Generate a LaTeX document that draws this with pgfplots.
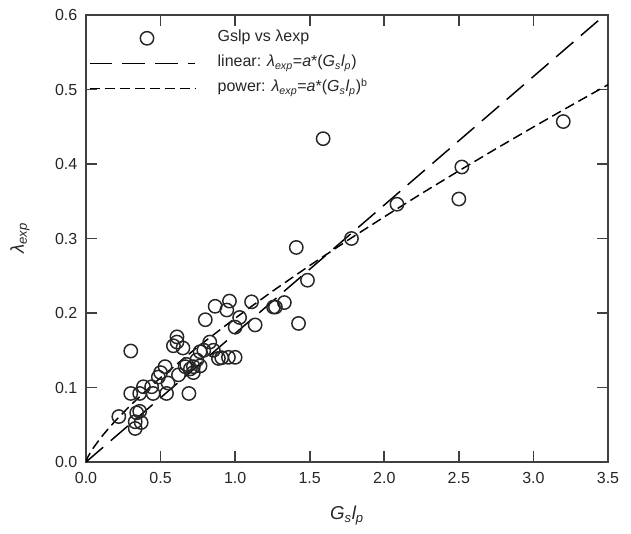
\documentclass[border=0pt]{standalone}
\usepackage{fontspec}
\setmainfont{Liberation Sans}
\usepackage{pgfplots}
\pgfplotsset{compat=1.18}

\begin{document}
\begin{tikzpicture}
\useasboundingbox (-64.5pt,-53.25pt) rectangle (408.75pt,346.5pt);
\begin{axis}[
    at={(0,0)}, anchor=south west,
    scale only axis, width=391.5pt, height=335.25pt,
    xmin=0, xmax=3.5, ymin=0, ymax=0.6,
    xtick={0,0.5,1,1.5,2,2.5,3,3.5},
    ytick={0,0.1,0.2,0.3,0.4,0.5,0.6},
    tick align=inside, major tick length=8pt, minor tick num=0,
    xticklabel style={/pgf/number format/.cd, fixed, fixed zerofill, precision=1, /tikz/.cd, yshift=-4pt},
    yticklabel style={/pgf/number format/.cd, fixed, fixed zerofill, precision=1, /tikz/.cd, xshift=-3pt},
    /pgf/number format/assume math mode=true,
    tick label style={font=\fontsize{12}{14}\selectfont, color=black!85},
    axis line style={black!75, line width=1.2pt},
    every tick/.style={black!75, line width=1.2pt},
    xlabel={\itshape G\textsubscript{s}l\textsubscript{p}},
    ylabel={\itshape λ\textsubscript{exp}},
    label style={font=\fontsize{14}{16}\selectfont, color=black!85},
    xlabel style={at={(axis description cs:0.5,-0.1193)}, anchor=center},
    ylabel style={at={(axis description cs:-0.1264,0.5)}, anchor=center},
    legend cell align=left,
    legend style={at={(rel axis cs:0,1)}, anchor=north west, xshift=2pt, yshift=-10.5pt,
        draw=none, fill=none, inner sep=0pt, row sep=5.25pt,
        font=\fontsize{12}{14}\selectfont,
        nodes={text height=8.5pt, text depth=3pt, inner sep=1pt, text=black!85}},
    legend image code/.code={
        \draw[mark repeat=2,mark phase=2] plot coordinates {(0pt,0pt) (39.5pt,0pt) (79pt,0pt)};
        \path[draw=none] (0pt,0pt) -- (95pt,0pt);
    },
]
\addplot[only marks, mark=o, mark size=5pt, mark options={line width=1.1pt}, black!85,
    legend image code/.code={
        \path[draw=none] (0pt,0pt) -- (95pt,0pt);
        \draw plot[only marks] coordinates {(43pt,0pt)};
    }] table {
x y
0.22 0.061
0.30 0.149
0.30 0.092
0.34 0.066
0.36 0.092
0.33 0.054
0.37 0.053
0.33 0.045
0.36 0.068
0.385 0.101
0.44 0.101
0.45 0.092
0.485 0.114
0.50 0.120
0.53 0.128
0.54 0.092
0.55 0.106
0.586 0.156
0.61 0.161
0.61 0.168
0.62 0.117
0.65 0.153
0.665 0.128
0.675 0.131
0.69 0.092
0.70 0.125
0.72 0.128
0.72 0.120
0.743 0.137
0.765 0.129
0.765 0.148
0.79 0.150
0.80 0.191
0.83 0.161
0.854 0.150
0.866 0.209
0.888 0.139
0.91 0.140
0.944 0.204
0.955 0.1405
0.962 0.216
1.00 0.1405
1.00 0.181
1.03 0.194
1.11 0.215
1.134 0.184
1.257 0.208
1.27 0.208
1.33 0.214
1.41 0.288
1.425 0.186
1.485 0.244
1.59 0.434
1.78 0.300
2.085 0.346
2.50 0.353
2.52 0.396
3.20 0.457
};
\addlegendentry{Gslp vs λexp}
\addplot[black, line width=1.1pt, dash pattern=on 17pt off 7.5pt] coordinates {(0,0) (3.5,0.60375)};
\addlegendentry{linear: \textit{λ\textsubscript{exp}}=\textit{a}*(\textit{G\textsubscript{s}l\textsubscript{p}})}
\addplot[black, line width=1.1pt, dash pattern=on 7.5pt off 3.75pt] coordinates {
(0,0) (0.01,0.0056) (0.02,0.0095) (0.05,0.0192) (0.1,0.0328) (0.15,0.0448)
(0.2,0.0559) (0.3,0.0764) (0.4,0.0953) (0.5,0.1132) (0.75,0.1547) (1,0.193)
(1.25,0.2292) (1.5,0.2637) (1.75,0.2970) (2,0.3291) (2.25,0.3604) (2.5,0.3908)
(2.75,0.4206) (3,0.4497) (3.25,0.4783) (3.5,0.5064)
};
\addlegendentry{power: \textit{λ\textsubscript{exp}}=\textit{a}*(\textit{G\textsubscript{s}l\textsubscript{p}})\textsuperscript{b}}
\end{axis}
\end{tikzpicture}
\end{document}
